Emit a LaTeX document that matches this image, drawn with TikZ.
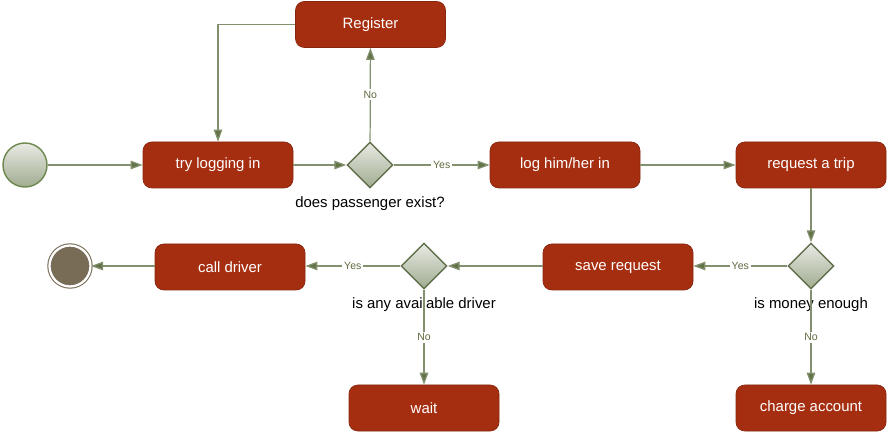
\documentclass[tikz,border=0pt]{standalone}
\usepackage{fontspec}
\setmainfont{Liberation Sans}
\usetikzlibrary{shapes,arrows.meta}

\definecolor{boxfill}{RGB}{166,46,16}
\definecolor{boxline}{RGB}{135,38,14}
\definecolor{flow}{RGB}{130,144,110}
\definecolor{tipc}{RGB}{98,115,72}
\definecolor{yesno}{RGB}{95,108,62}
\definecolor{gtop}{RGB}{232,234,228}
\definecolor{gbot}{RGB}{160,172,144}
\definecolor{dline}{RGB}{98,112,78}
\definecolor{startline}{RGB}{108,136,76}
\definecolor{endc}{RGB}{120,108,86}

\begin{document}
\begin{tikzpicture}[
  act/.style={draw=boxline,rectangle,rounded corners=5pt,fill=boxfill,text=white,
    minimum width=3 cm,minimum height=0.92cm,font=\fontsize{8.5}{10}\selectfont},
  choice/.style={draw=dline,diamond,line width=0.8pt,top color=gtop,bottom color=gbot,
    minimum width=0.92cm,minimum height=0.92cm,inner sep=0pt},
  qtext/.style={font=\fontsize{8.5}{10}\selectfont,text=black},
  flowline/.style={flow,line width=0.7pt,-{Triangle[length=2.4mm,width=1.7mm,fill=tipc]}},
  yn/.style={fill=white,inner sep=1pt,text=yesno,font=\fontsize{6}{7}\selectfont}]
\useasboundingbox (0,0) rectangle (17.78,-8.64);

\node[draw=startline,circle,line width=0.8pt,top color=gtop,bottom color=gbot,minimum size=0.88cm] (START) at (0.5,-3.3) {};
\node[act] (TLI) at (4.36,-3.3) {try logging in};
\node[act] (REG) at (7.41,-0.49) {Register};
\node[choice,label={[qtext,label distance=1pt]below:does passenger exist?}] (D1) at (7.4,-3.3) {};
\node[act] (LOG) at (11.3,-3.3) {log him/her in};
\node[act] (REQ) at (16.22,-3.3) {request a trip};
\node[choice,label={[qtext,label distance=1pt]below:is money enough}] (D2) at (16.22,-5.32) {};
\node[act] (SAV) at (12.36,-5.34) {save request};
\node[choice,label={[qtext,label distance=1pt]below:is any available driver}] (D3) at (8.48,-5.32) {};
\node[act] (CAL) at (4.6,-5.34) {call driver};
\node[circle,draw=endc,line width=0.6pt,double=white,double distance=1.3pt,fill=endc,minimum size=0.82cm] (END) at (1.4,-5.32) {};
\node[act] (WAIT) at (8.48,-8.16) {wait};
\node[act] (CHG) at (16.22,-8.16) {charge account};

\draw[flowline] (START) -- (TLI);
\draw[flowline] (REG.west) -| (TLI.north);
\draw[flowline] (TLI) -- (D1);
\draw[flowline] (D1) -- node[yn]{No} (REG);
\draw[flowline] (D1) -- node[yn]{Yes} (LOG);
\draw[flowline] (LOG) -- (REQ);
\draw[flowline] (REQ) -- (D2);
\draw[flowline] (D2) -- node[yn]{Yes} (SAV.east |- D2);
\draw[flowline] (D2) -- node[yn]{No} (CHG);
\draw[flowline] (SAV.west |- D3) -- (D3);
\draw[flowline] (D3) -- node[yn]{Yes} (CAL.east |- D3);
\draw[flowline] (D3) -- node[yn]{No} (WAIT);
\draw[flowline] (CAL.west |- END) -- (END);
\end{tikzpicture}
\end{document}
